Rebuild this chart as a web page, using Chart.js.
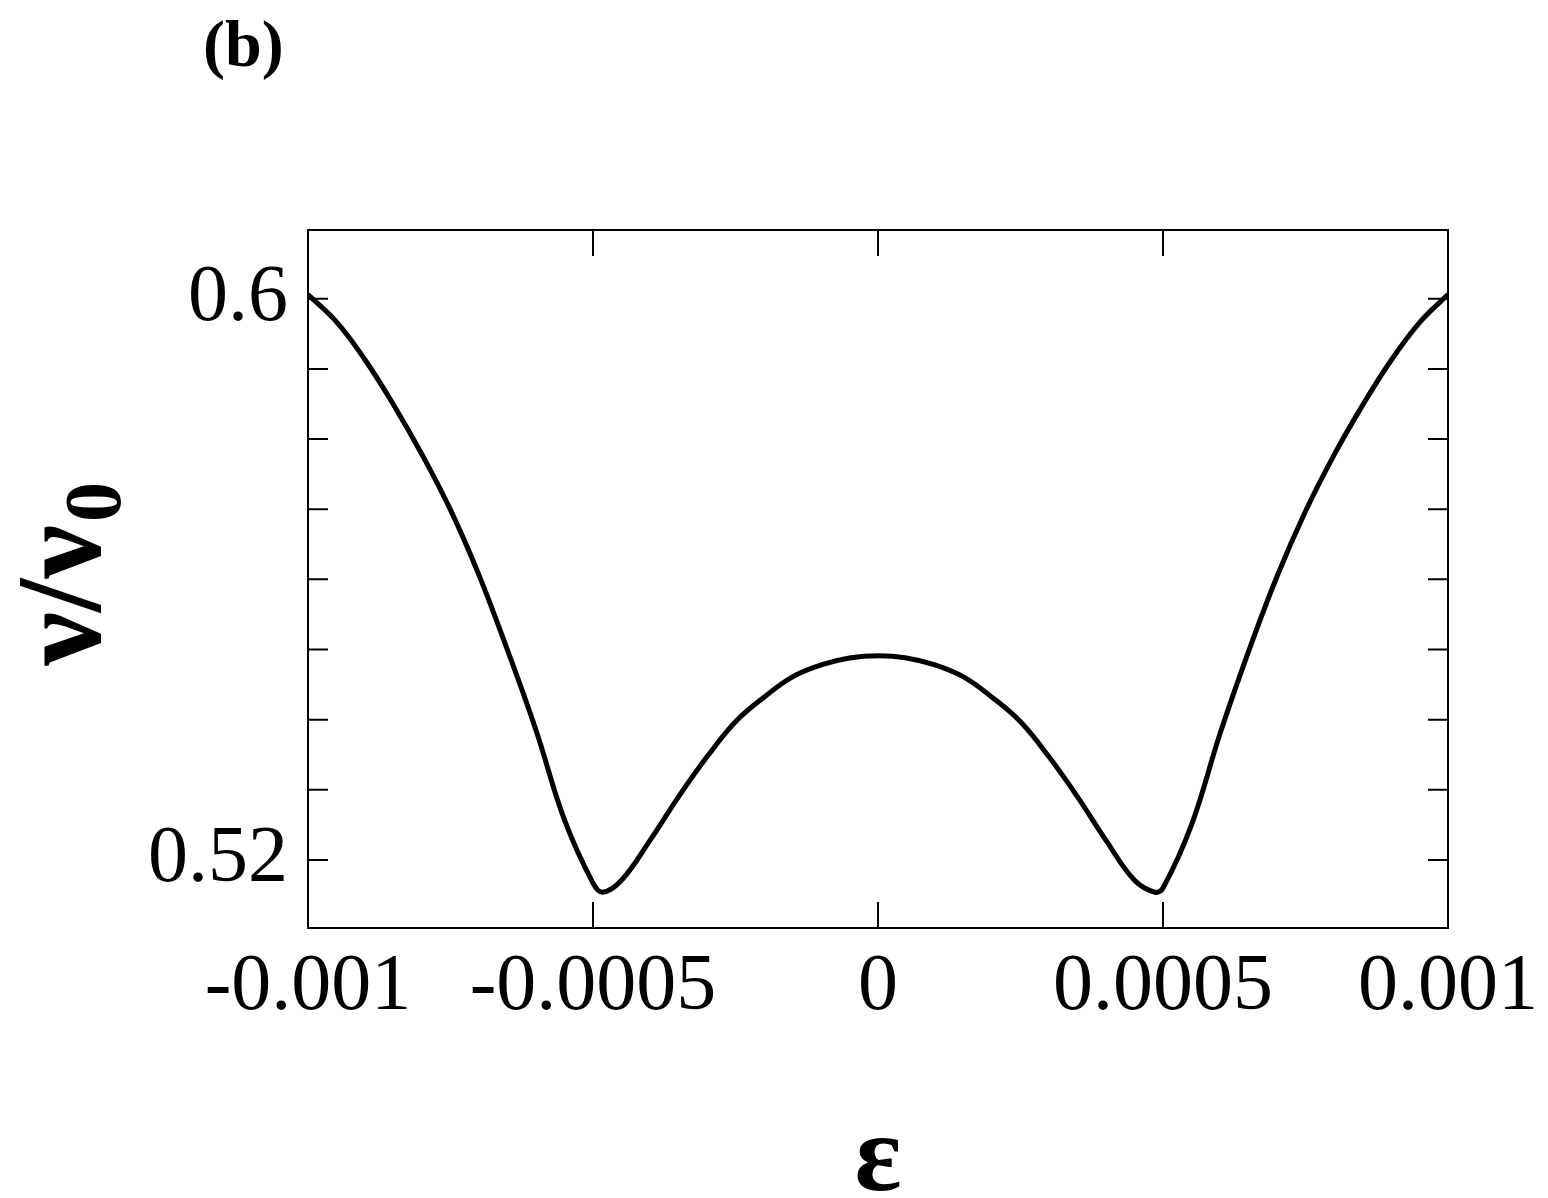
<!DOCTYPE html>
<html><head><meta charset="utf-8">
<script src="https://cdn.jsdelivr.net/npm/chart.js@4"></script>
<style>html,body{margin:0;padding:0;background:#fff}#w{width:1548px;height:1198px}</style>
</head><body><div id="w"><canvas id="c"></canvas></div>
<script>
const epsX = [-1,-0.95,-0.9,-0.85,-0.8,-0.75,-0.7,-0.65,-0.6,-0.55,-0.5,-0.483,-0.45,-0.4,-0.35,-0.3,-0.25,-0.2,-0.15,-0.1,-0.05,0,
0.05,0.1,0.15,0.2,0.25,0.3,0.35,0.4,0.45,0.486,0.5,0.55,0.6,0.65,0.7,0.75,0.8,0.85,0.9,0.95,1].map(v=>v*1e-3);
const nuY = [0.6006,0.5967,0.5913,0.5849,0.5778,0.5699,0.5606,0.5499,0.5385,0.5257,0.5167,0.5154,0.5171,0.5228,0.5290,0.5347,0.5397,0.5432,0.5461,0.5478,0.5488,0.5491,
0.5488,0.5478,0.5461,0.5432,0.5397,0.5347,0.5290,0.5228,0.5171,0.5154,0.5160,0.5250,0.5380,0.5497,0.5604,0.5697,0.5777,0.5848,0.5912,0.5966,0.6006];
const xTicks = [-0.001,-0.0005,0,0.0005,0.001];
const xTickLabels = ["-0.001","-0.0005","0","0.0005","0.001"];
const yTicks = [0.52,0.53,0.54,0.55,0.56,0.57,0.58,0.59,0.6];
const yTickLabels = {"0.52":"0.52","0.60":"0.6"};
const font = "Liberation Serif";
const deco = {id:'deco',afterDraw(ch){
  const {ctx,chartArea:a,scales:{x,y}}=ch;
  ctx.save();ctx.strokeStyle='#000';ctx.lineWidth=2;
  ctx.strokeRect(a.left,a.top,a.right-a.left,a.bottom-a.top);
  ctx.beginPath();
  xTicks.forEach(v=>{const p=x.getPixelForValue(v);ctx.moveTo(p,a.top);ctx.lineTo(p,a.top+26);ctx.moveTo(p,a.bottom);ctx.lineTo(p,a.bottom-26);});
  yTicks.forEach(v=>{const p=y.getPixelForValue(v);ctx.moveTo(a.left,p);ctx.lineTo(a.left+20,p);ctx.moveTo(a.right,p);ctx.lineTo(a.right-20,p);});
  ctx.stroke();
  ctx.fillStyle='#000';
  ctx.font='bold 66px '+font;ctx.textAlign='left';ctx.textBaseline='alphabetic';
  ctx.fillText('(b)',203,66);
  ctx.font='bold 110px '+font;ctx.textAlign='center';
  ctx.fillText('ε',878,1190);
  ctx.translate(100,580);ctx.rotate(-Math.PI/2);
  ctx.font='bold 120px '+font;ctx.textAlign='right';
  ctx.fillText('ν/ν',55,0);
  ctx.font='bold 80px '+font;ctx.textAlign='left';
  ctx.fillText('0',58,20);
  ctx.restore();
}};
new Chart(document.getElementById('c'),{
  type:'scatter',
  data:{datasets:[{data:epsX.map((v,i)=>({x:v,y:nuY[i]})),showLine:true,tension:0.4,borderColor:'#000',borderWidth:5,pointRadius:0}]},
  options:{responsive:true,maintainAspectRatio:false,animation:false,
    layout:{padding:{top:230,right:100,left:0,bottom:0}},
    plugins:{legend:{display:false},tooltip:{enabled:false}},
    scales:{
      x:{type:'linear',min:-0.001,max:0.001,grid:{display:false},border:{display:false},
        afterBuildTicks(s){s.ticks=xTicks.map(v=>({value:v}));},
        afterFit(s){s.height=270;},
        ticks:{color:'#000',padding:4,font:{family:font,size:80},maxRotation:0,autoSkip:false,
          callback:(v)=>{const i=xTicks.findIndex(t=>Math.abs(t-v)<1e-9);return i>=0?xTickLabels[i]:'';}}},
      y:{type:'linear',min:0.5103,max:0.6098,grid:{display:false},border:{display:false},
        afterBuildTicks(s){s.ticks=yTicks.map(v=>({value:v}));},
        afterFit(s){s.width=308;},
        ticks:{color:'#000',padding:12,font:{family:font,size:80},autoSkip:false,
          callback:(v)=>yTickLabels[v.toFixed(2)]||''}}
    }},
  plugins:[deco]
});
</script></body></html>
